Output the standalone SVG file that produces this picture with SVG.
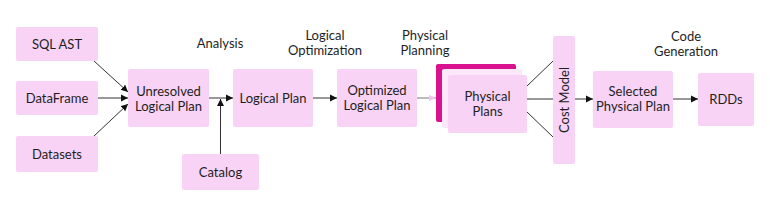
<svg xmlns="http://www.w3.org/2000/svg" width="770" height="217" viewBox="0 0 770 217">
<defs>
<style>
.box{fill:#f8d3f5;}
.t{font-family:Lato,"Liberation Sans",sans-serif;font-size:13px;fill:#1e1e1e;text-anchor:middle;}
.c{stroke:#333;stroke-width:1;fill:none;}
</style>
<marker id="ah" markerWidth="8" markerHeight="8" refX="7" refY="4" orient="auto" markerUnits="userSpaceOnUse">
<path d="M0,0.5 L7,4 L0,7.5 z" fill="#111"/>
</marker>
<marker id="ahp" markerWidth="8" markerHeight="8" refX="7" refY="4" orient="auto" markerUnits="userSpaceOnUse">
<path d="M0,1 L7,4 L0,7 z" fill="#f3c3ec"/>
</marker>
</defs>
<rect width="770" height="217" fill="#fff"/>
<g id="labels">
<text class="t" x="220" y="48">Analysis</text>
<text class="t" x="325" y="40">Logical</text>
<text class="t" x="325" y="55">Optimization</text>
<text class="t" x="425" y="40">Physical</text>
<text class="t" x="425" y="55">Planning</text>
<text class="t" x="686" y="41">Code</text>
<text class="t" x="686" y="56">Generation</text>
</g>
<g id="connectors">
<line class="c" x1="94" y1="61" x2="128" y2="92" marker-end="url(#ah)"/>
<line class="c" x1="98" y1="98" x2="128" y2="98" marker-end="url(#ah)"/>
<line class="c" x1="94" y1="136" x2="128" y2="104" marker-end="url(#ah)"/>
<line class="c" x1="209" y1="98" x2="233" y2="98" marker-end="url(#ah)"/>
<line class="c" x1="220.5" y1="154" x2="220.5" y2="99" marker-end="url(#ah)"/>
<line class="c" x1="313" y1="98" x2="337" y2="98" marker-end="url(#ah)"/>
<line x1="417" y1="98" x2="436" y2="98" stroke="#777" stroke-width="1" marker-end="url(#ahp)"/>
<line class="c" x1="527" y1="86" x2="553" y2="61"/>
<line class="c" x1="527" y1="99" x2="553" y2="99"/>
<line class="c" x1="527" y1="112" x2="553" y2="137"/>
<line class="c" x1="575" y1="99" x2="593" y2="99" marker-end="url(#ah)"/>
<line class="c" x1="673" y1="99" x2="698" y2="99" marker-end="url(#ah)"/>
</g>
<g id="sql-ast"><rect class="box" x="16" y="27" width="82" height="34" rx="2"/><text class="t" x="57" y="48.5">SQL AST</text></g>
<g id="dataframe"><rect class="box" x="16" y="81" width="82" height="34" rx="2"/><text class="t" x="57" y="102.5">DataFrame</text></g>
<g id="datasets"><rect class="box" x="16" y="136" width="82" height="36" rx="2"/><text class="t" x="57" y="158.5">Datasets</text></g>
<g id="unresolved"><rect class="box" x="128" y="69" width="81" height="58" rx="2"/><text class="t" x="168.5" y="96">Unresolved</text><text class="t" x="168.5" y="111">Logical Plan</text></g>
<g id="catalog"><rect class="box" x="182" y="154" width="77" height="36" rx="2"/><text class="t" x="220.5" y="176.5">Catalog</text></g>
<g id="logical-plan"><rect class="box" x="233" y="69" width="80" height="58" rx="2"/><text class="t" x="273" y="103">Logical Plan</text></g>
<g id="optimized"><rect class="box" x="337" y="69" width="80" height="58" rx="2"/><text class="t" x="377" y="95">Optimized</text><text class="t" x="377" y="110">Logical Plan</text></g>
<g id="physical-plans">
<rect x="436" y="64" width="80" height="58" rx="2" fill="#d9138f"/>
<rect x="442" y="69" width="80" height="59" rx="2" fill="#fce8f8"/>
<rect class="box" x="448" y="75" width="79" height="58" rx="2"/>
<text class="t" x="487.5" y="101">Physical</text><text class="t" x="487.5" y="116">Plans</text>
</g>
<g id="cost-model"><rect class="box" x="553" y="36" width="22" height="128" rx="2"/><text class="t" transform="translate(568.5,100) rotate(-90)">Cost Model</text></g>
<g id="selected"><rect class="box" x="593" y="71" width="80" height="57" rx="2"/><text class="t" x="633" y="96">Selected</text><text class="t" x="633" y="111">Physical Plan</text></g>
<g id="rdds"><rect class="box" x="698" y="73" width="56" height="53" rx="2"/><text class="t" x="726" y="103.5">RDDs</text></g>
</svg>
